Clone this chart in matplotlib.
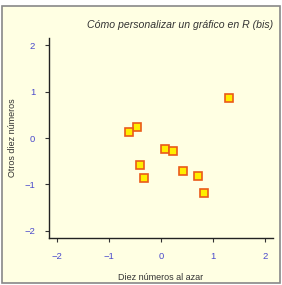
import matplotlib
matplotlib.use("Agg")
import matplotlib.pyplot as plt
from matplotlib.patches import Rectangle

# values
x_vals = [1.31, -0.47, -0.62, 0.07, 0.23, -0.40, -0.33, 0.42, 0.72, 0.83]
y_vals = [0.86, 0.24, 0.12, -0.23, -0.28, -0.59, -0.86, -0.71, -0.81, -1.19]
ticks = [-2, -1, 0, 1, 2]
tick_labels = ["\u22122", "\u22121", "0", "1", "2"]

title = "Cómo personalizar un gráfico en R (bis)"
xlabel = "Diez números al azar"
ylabel = "Otros diez números"

bg = "#ffffe3"
tick_col = "#4a4acc"
text_col = "#333333"

plt.rcParams['font.family'] = ['Liberation Sans', 'DejaVu Sans']

fig = plt.figure(figsize=(2.82, 2.85), dpi=100)
fig.patch.set_facecolor("white")
fig.patches.append(Rectangle((2/282, 1-283/285), 278/282, 277/285,
                             transform=fig.transFigure, facecolor=bg,
                             edgecolor="#888888", linewidth=1.2, zorder=-5))

ax = fig.add_axes([49/282, 1-238/285, 224/282, 200/285])
ax.patch.set_alpha(0)

ax.plot(x_vals, y_vals, linestyle="none", marker="s", markersize=5.2,
        markerfacecolor="#ffee00", markeredgecolor="#ea5a1a",
        markeredgewidth=1.2)

ax.set_xlim(-2.16, 2.16)
ax.set_ylim(-2.16, 2.16)
ax.set_xticks(ticks)
ax.set_xticklabels(tick_labels)
ax.set_yticks(ticks)
ax.set_yticklabels(tick_labels)
ax.tick_params(colors=text_col, labelcolor=tick_col, labelsize=6.8,
               length=3, width=0.8, pad=7)

for s in ["top", "right"]:
    ax.spines[s].set_visible(False)
for s in ["left", "bottom"]:
    ax.spines[s].set_color("#222222")
    ax.spines[s].set_linewidth(1.0)

fig.text(273/282, 1-25/285, title, ha="right", va="center",
         style="italic", fontsize=7.6, color=text_col)
fig.text(161/282, 1-277/285, xlabel, ha="center", va="center",
         fontsize=6.5, color=text_col)
fig.text(13/282, 1-138/285, ylabel, ha="center", va="center",
         rotation=90, fontsize=6.5, color=text_col)

fig.savefig("out.png", dpi=100, facecolor=fig.get_facecolor())
